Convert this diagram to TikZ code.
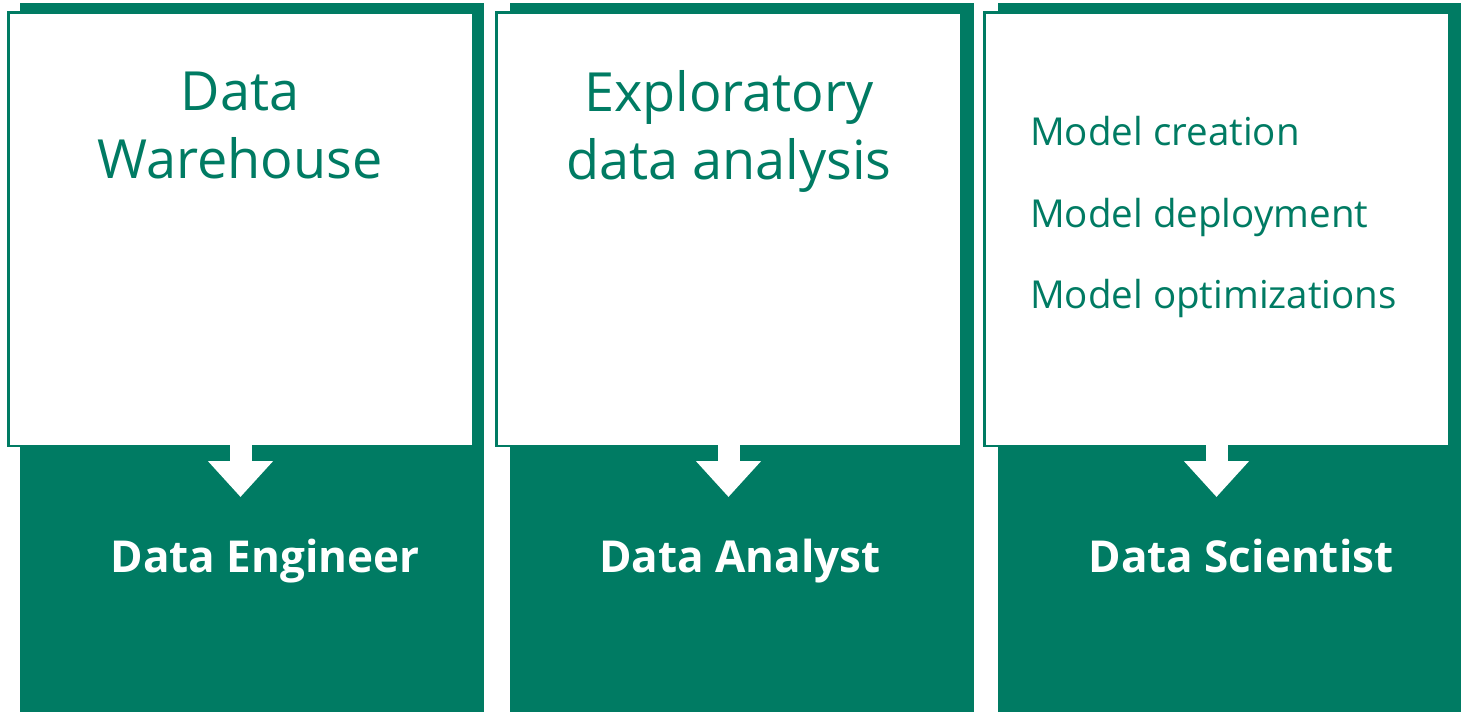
\documentclass[tikz,border=0pt]{standalone}
\usepackage{fontspec}
\setmainfont{Open Sans}
\usetikzlibrary{arrows.meta}
\definecolor{roleGreen}{RGB}{0,123,99}

\begin{document}
\begin{tikzpicture}[x=1pt,y=-1pt]
    \tikzstyle{back box}=[fill=roleGreen, inner sep=0pt, minimum width=464pt, minimum height=709pt, anchor=north west]
    \tikzstyle{front box}=[fill=white, draw=roleGreen, line width=2.5pt, inner sep=0pt, minimum width=464.5pt, minimum height=433.5pt, anchor=north west]
    \tikzstyle{down arrow}=[draw=white, line width=22pt, -{Triangle[width=63pt,length=36pt]}]
    \tikzstyle{title}=[text=roleGreen, font=\fontsize{54}{68}\selectfont, align=center, anchor=base]
    \tikzstyle{task}=[text=roleGreen, font=\fontsize{38.5}{46}\selectfont, anchor=base west, inner sep=0pt]
    \tikzstyle{role}=[text=white, font=\fontsize{44}{52}\selectfont\bfseries, anchor=base, inner sep=0pt]

    \fill[white] (0,0) rectangle (1461,715);
    \useasboundingbox (0,0) rectangle (1461,715);

    % Draw the three columns: green role box behind, white task box in front
    \foreach \name / \x / \w in {1/20/7, 2/510/495, 3/998/983} {
        \node[back box] (B-\name) at (\x,3) {};
        \node[front box] (W-\name) at (\w,11) {};
        \coordinate (T-\name) at ([yshift=-50pt]W-\name.south);
        \draw[down arrow] ([yshift=3pt]W-\name.south) -- (T-\name);
    }

    % What each role works on
    \node[title] (task-1) at (240,178) {Data\\Warehouse};
    \node[title] (task-2) at (729,179) {Exploratory\\data analysis};
    \node[task] (model-1) at (1030,145) {Model creation};
    \node[task] (model-2) at (1030,227) {Model deployment};
    \node[task] (model-3) at (1030,308) {Model optimizations};

    % The roles
    \node[role] (role-1) at (265,572) {Data Engineer};
    \node[role] (role-2) at (740,572) {Data Analyst};
    \node[role] (role-3) at (1241,572) {Data Scientist};
\end{tikzpicture}
\end{document}
